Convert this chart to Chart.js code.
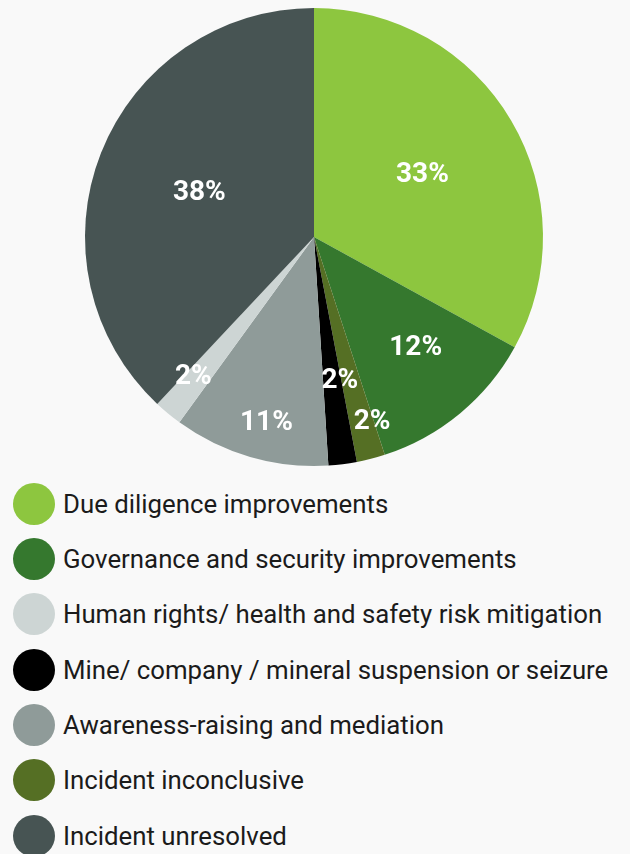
<!DOCTYPE html>
<html>
<head>
<meta charset="utf-8">
<script src="https://cdn.jsdelivr.net/npm/chart.js@4"></script>
<style>
  body { margin: 0; background: #f9f9f9; font-family: Roboto, "Noto Sans", sans-serif; }
  #wrap { position: relative; width: 630px; height: 474px; }
  #leyenda { position: absolute; left: 13px; top: 476px; }
  .fila { display: flex; align-items: center; height: 55.33px; }
  .punto { width: 42px; height: 42px; border-radius: 50%; margin-right: 8px; flex: none; }
  .texto { font-size: 25.8px; color: #1b1b1b; white-space: nowrap; }
</style>
</head>
<body>
<div id="wrap"><canvas id="graficaResultados"></canvas></div>
<div id="leyenda"></div>
<script>
// orden de las porciones (sentido horario desde arriba)
const categorias = [
  "Due diligence improvements",
  "Governance and security improvements",
  "Incident inconclusive",
  "Mine/ company / mineral suspension or seizure",
  "Awareness-raising and mediation",
  "Human rights/ health and safety risk mitigation",
  "Incident unresolved"
];
const porcentajes = [33, 12, 2, 2, 11, 2, 38];
const colores = ["#8dc63f", "#35782e", "#556f24", "#000000", "#8f9b99", "#cdd5d4", "#475453"];

// orden de la leyenda
const ordenLeyenda = [
  "Due diligence improvements",
  "Governance and security improvements",
  "Human rights/ health and safety risk mitigation",
  "Mine/ company / mineral suspension or seizure",
  "Awareness-raising and mediation",
  "Incident inconclusive",
  "Incident unresolved"
];

// posicion de cada etiqueta: fraccion del radio y ajuste de angulo (grados)
const radioEtiqueta = [0.55, 0.65, 0.84, 0.63, 0.83, 0.80, 0.54];
const giroEtiqueta = [0, -3.5, -3.2, -3.1, -1.7, 1.6, 0.4];

const etiquetas = {
  id: "etiquetas",
  afterDatasetsDraw(chart) {
    const ctx = chart.ctx;
    const arcos = chart.getDatasetMeta(0).data;
    ctx.save();
    ctx.fillStyle = "#ffffff";
    ctx.font = "bold 28px Roboto, sans-serif";
    ctx.textAlign = "center";
    ctx.textBaseline = "middle";
    arcos.forEach((arco, i) => {
      const p = arco.getProps(["x", "y", "startAngle", "endAngle", "outerRadius"], true);
      const ang = (p.startAngle + p.endAngle) / 2 + giroEtiqueta[i] * Math.PI / 180;
      const r = p.outerRadius * radioEtiqueta[i];
      ctx.fillText(porcentajes[i] + "%", p.x + Math.cos(ang) * r, p.y + Math.sin(ang) * r + 2);
    });
    ctx.restore();
  }
};

const ctx = document.getElementById("graficaResultados").getContext("2d");

new Chart(ctx, {
  type: "pie",
  data: {
    labels: categorias,
    datasets: [
      {
        data: porcentajes,
        backgroundColor: colores,
        borderWidth: 0
      }
    ]
  },
  options: {
    responsive: true,
    maintainAspectRatio: false,
    animation: false,
    layout: { padding: { top: 8, bottom: 8, left: 0, right: 2 } },
    plugins: {
      legend: { display: false },
      tooltip: { enabled: false }
    }
  },
  plugins: [etiquetas]
});

const leyenda = document.getElementById("leyenda");
ordenLeyenda.forEach(nombre => {
  const fila = document.createElement("div");
  fila.className = "fila";
  const punto = document.createElement("span");
  punto.className = "punto";
  punto.style.background = colores[categorias.indexOf(nombre)];
  const texto = document.createElement("span");
  texto.className = "texto";
  texto.textContent = nombre;
  fila.appendChild(punto);
  fila.appendChild(texto);
  leyenda.appendChild(fila);
});
</script>
</body>
</html>
